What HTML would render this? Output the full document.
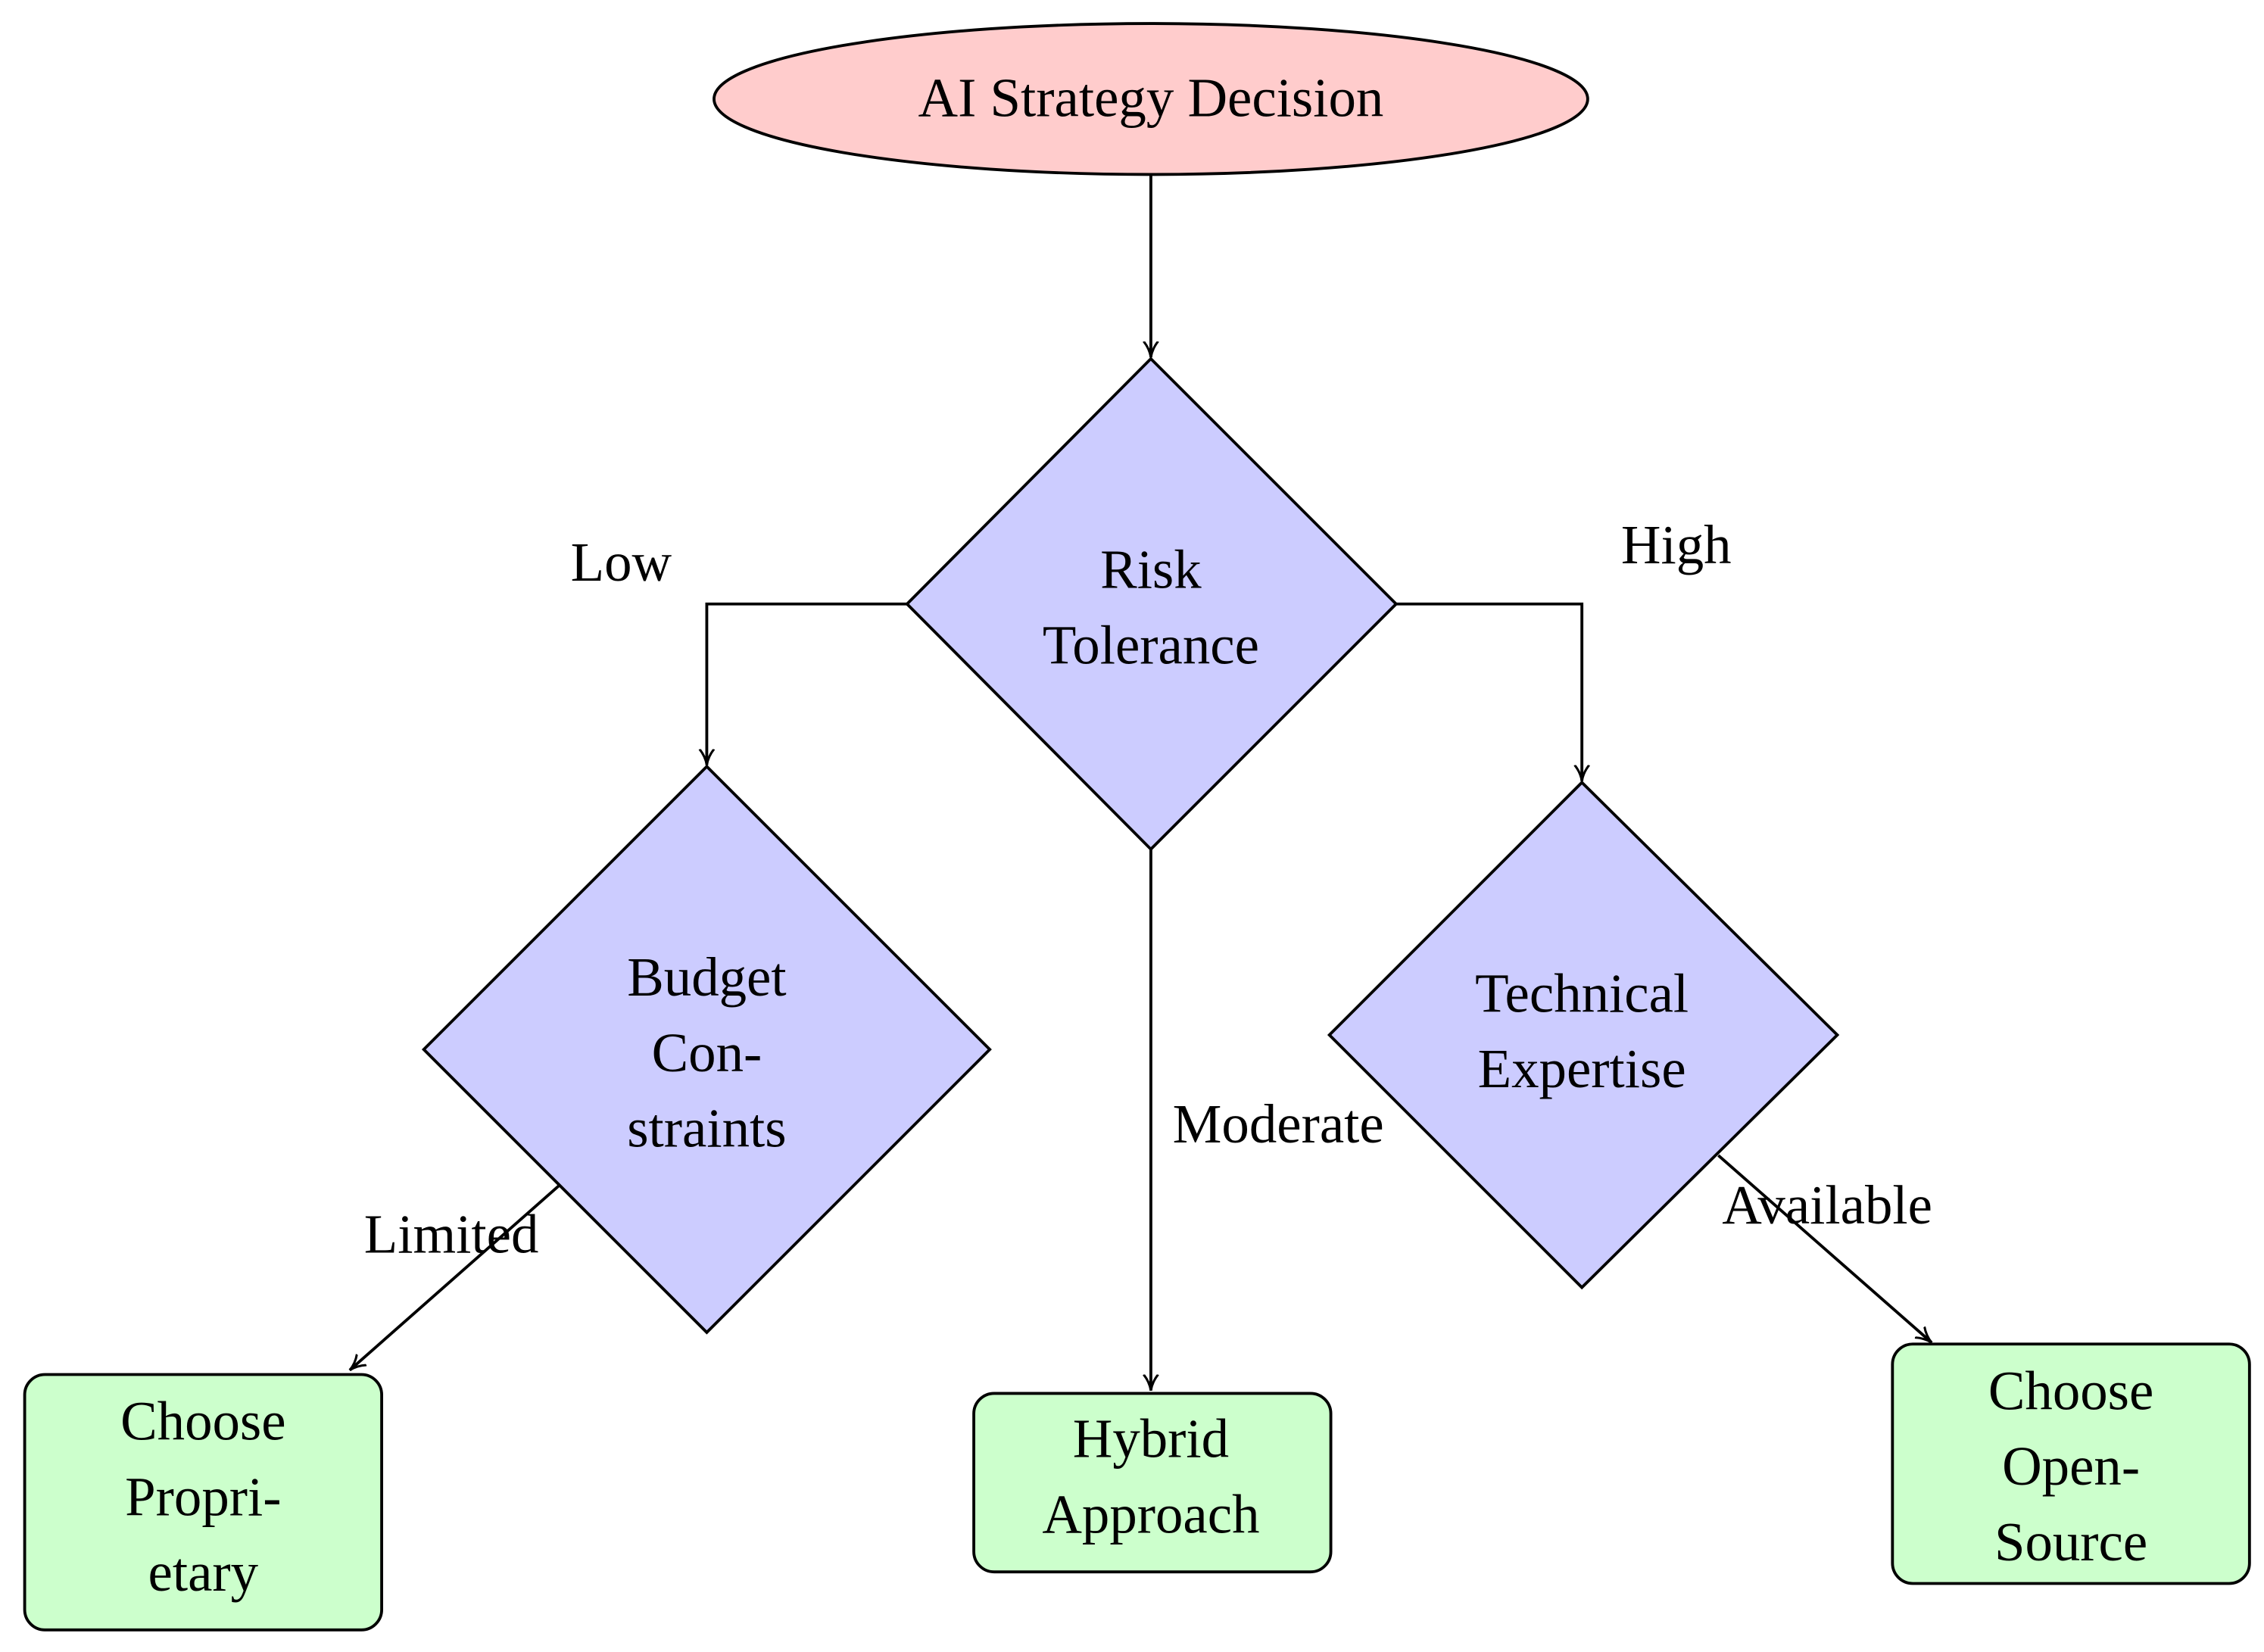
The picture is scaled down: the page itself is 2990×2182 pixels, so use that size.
<!DOCTYPE html>
<html><head><meta charset="utf-8"><style>html,body{margin:0;padding:0;background:#fff}svg{display:block}</style></head>
<body>
<svg width="2990" height="2182" viewBox="0 0 1560 1138" xmlns="http://www.w3.org/2000/svg" font-family="Liberation Serif, serif" font-size="38">
<defs>
<marker id="a" viewBox="0 0 12 12" refX="11" refY="6" markerWidth="12" markerHeight="12" markerUnits="userSpaceOnUse" orient="auto">
<path d="M0,1 Q5,5 11,6 Q5,7 0,11" fill="none" stroke="#000" stroke-width="1.6"/>
</marker>
</defs>
<g stroke="#000" stroke-width="2" fill="none">
<line x1="793" y1="120" x2="793" y2="246" marker-end="url(#a)"/>
<polyline points="625,416 487,416 487,527" marker-end="url(#a)"/>
<polyline points="962,416 1090,416 1090,538" marker-end="url(#a)"/>
<line x1="793" y1="585" x2="793" y2="958" marker-end="url(#a)"/>
<line x1="385" y1="817" x2="241" y2="944" marker-end="url(#a)"/>
<line x1="1184" y1="796" x2="1331" y2="925" marker-end="url(#a)"/>
</g>
<g stroke="#000" stroke-width="2">
<ellipse cx="793" cy="68" rx="301" ry="52" fill="#ffcccc"/>
<polygon points="793,247 962,416 793,585 625,416" fill="#ccccff"/>
<polygon points="487,528 682,723 487,918 292,723" fill="#ccccff"/>
<polygon points="1090,539 1266,713 1090,887 916,713" fill="#ccccff"/>
<rect x="671" y="960" width="246" height="123" rx="14" fill="#ccffcc"/>
<rect x="17" y="947" width="246" height="176" rx="14" fill="#ccffcc"/>
<rect x="1304" y="926" width="246" height="165" rx="14" fill="#ccffcc"/>
</g>
<g text-anchor="middle" fill="#000">
<text x="793" y="80">AI Strategy Decision</text>
<text x="793" y="405">Risk</text>
<text x="793" y="457">Tolerance</text>
<text x="487" y="686">Budget</text>
<text x="487" y="738">Con-</text>
<text x="487" y="790">straints</text>
<text x="1090" y="697">Technical</text>
<text x="1090" y="749">Expertise</text>
<text x="793" y="1004">Hybrid</text>
<text x="793" y="1056">Approach</text>
<text x="140" y="992">Choose</text>
<text x="140" y="1044">Propri-</text>
<text x="140" y="1096">etary</text>
<text x="1427" y="971">Choose</text>
<text x="1427" y="1023">Open-</text>
<text x="1427" y="1075">Source</text>
<text x="428" y="400">Low</text>
<text x="1155" y="388">High</text>
<text x="311" y="863">Limited</text>
<text x="1259" y="843">Available</text>
</g>
<text x="808" y="787" fill="#000">Moderate</text>
</svg>
</body></html>
